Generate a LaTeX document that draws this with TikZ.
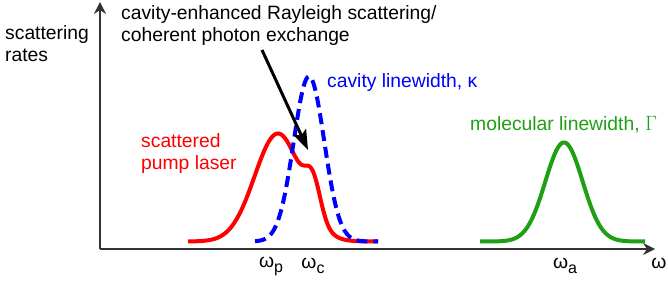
\documentclass[tikz,border=0pt]{standalone}
\usepackage{fontspec}
\setmainfont{Liberation Sans}
\usepackage{xcolor}
\usetikzlibrary{arrows.meta}
\definecolor{axisgray}{RGB}{51,51,51}
\definecolor{molgreen}{RGB}{30,160,20}
\newcommand{\lowsub}[1]{\raisebox{-5pt}{\fontsize{16}{16}\selectfont #1}}

\begin{document}
\begin{tikzpicture}[x=1pt, y=1pt, every node/.style={font=\fontsize{19.3}{22}\selectfont, inner sep=0pt},
  axis/.style={draw=axisgray, line width=1.8pt, -{Stealth[length=12pt,width=12pt]}},
  curve/.style={line width=4pt}]
\useasboundingbox (0,0) rectangle (668,291);
% axes
\coordinate (O) at (100,42);
\coordinate (ytop) at (100,289);
\coordinate (xend) at (655,42);
\draw[axis] (O)--(ytop);
\draw[axis] (O)--(xend);
\node (w) at (659,28) {ω};
\node (wp) at (271,25) {ω\lowsub{p}};
\node (wc) at (313,25) {ω\lowsub{c}};
\node (wa) at (565,25) {ω\lowsub{a}};
\node[anchor=north west, align=left] (rates) at (5,266) {scattering\\rates};
% spectra
\draw[curve, red] plot[domain=188:378, samples=150]
  (\x, {49.5 + 108*exp(-((\x-278)/33)^2) + 35*exp(-((\x-313)/11)^2)});
\draw[curve, blue, dash pattern=on 11pt off 6pt] plot[domain=255:378, samples=150]
  (\x, {49.5 + 165*exp(-((\x-309)/21.6)^2)});
\draw[curve, molgreen] plot[domain=480:645, samples=150]
  (\x, {49.5 + 99*exp(-((\x-564)/26.4)^2)});
% labels
\node[anchor=west, text=blue] (cav) at (327,208) {cavity linewidth, κ};
\node[anchor=north west, align=left, text=red] (pump) at (141,158) {scattered\\pump laser};
\node[anchor=west, text=molgreen] (mol) at (470,166) {molecular linewidth, $\Gamma$};
\node[anchor=north west, align=left] (rayl) at (121,286) {cavity-enhanced Rayleigh scattering/\\coherent photon exchange};
\coordinate (arrstart) at (262,241);
\coordinate (arrtip) at (308,141);
\draw[line width=3pt, -{Stealth[length=20pt,width=14pt,inset=4pt]}] (arrstart)--(arrtip);
\end{tikzpicture}
\end{document}
